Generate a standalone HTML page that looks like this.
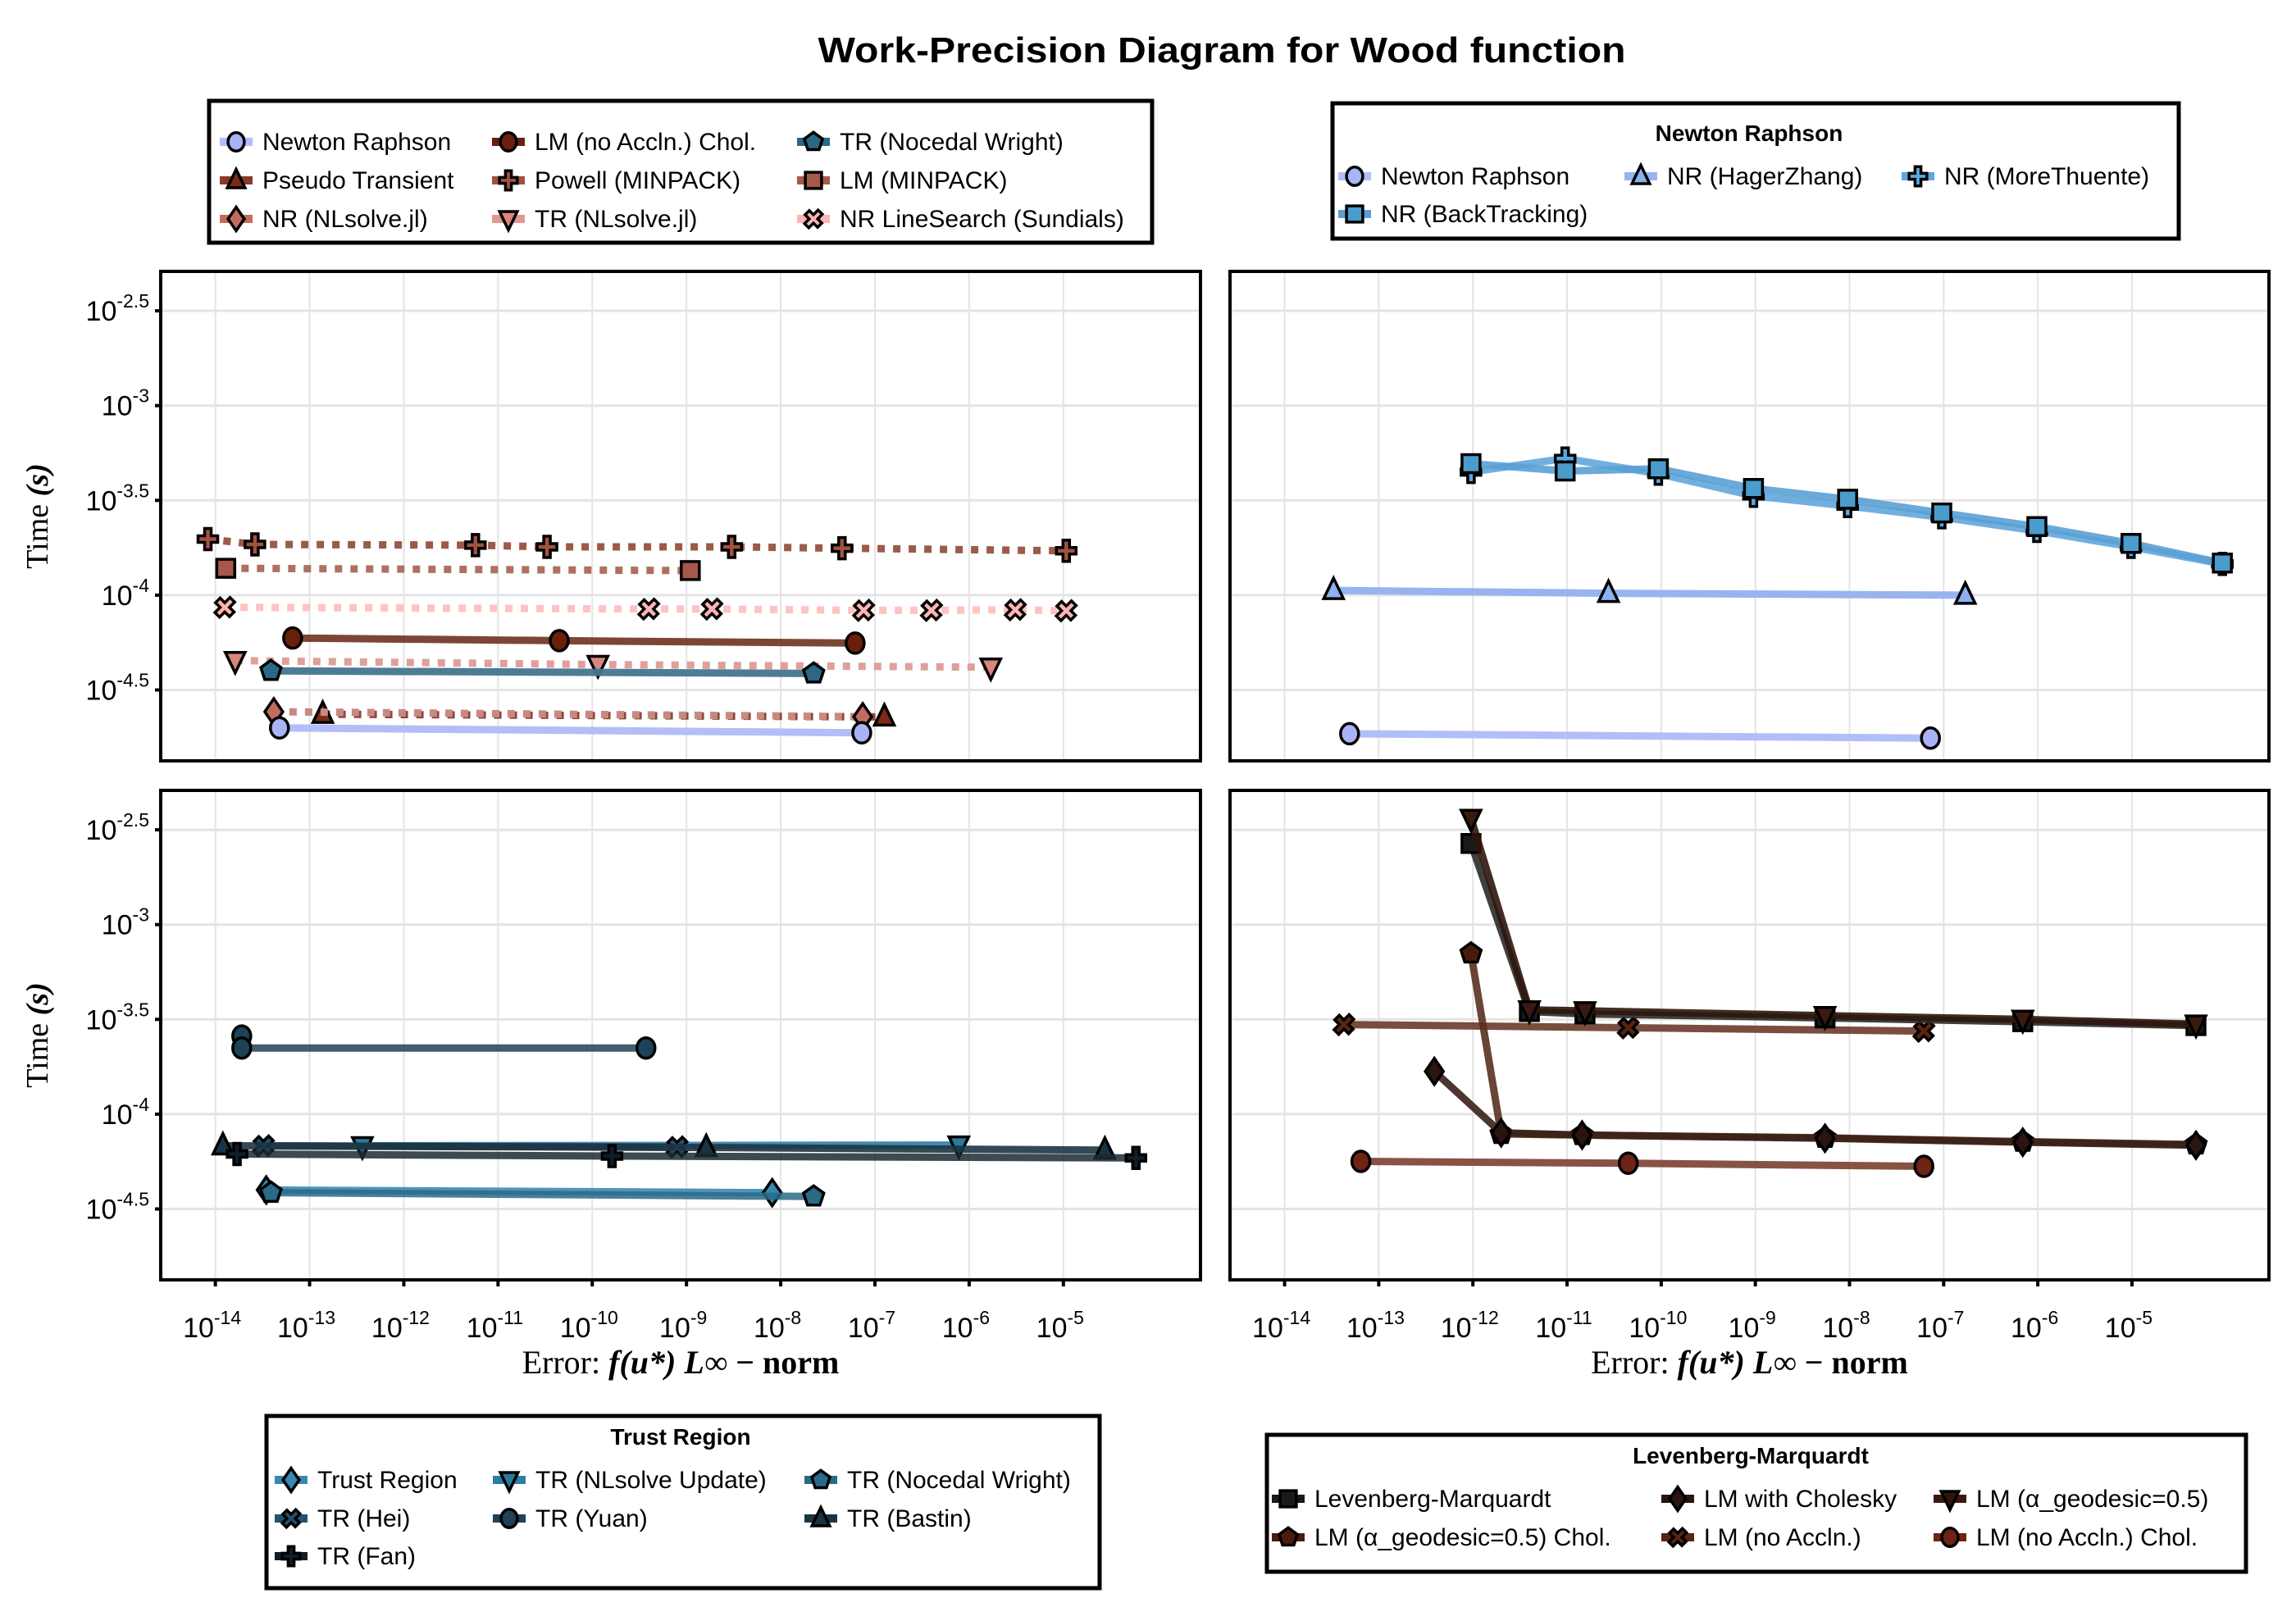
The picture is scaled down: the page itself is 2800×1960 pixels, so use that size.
<!DOCTYPE html>
<html><head><meta charset="utf-8"><style>
html,body{margin:0;padding:0;background:#fff;}
svg{display:block;font-family:"Liberation Sans",sans-serif;}
</style></head><body>
<svg id="chart" width="2800" height="1960" viewBox="0 0 2800 1960" xmlns="http://www.w3.org/2000/svg">
<rect width="2800" height="1960" fill="#fff"/>
<text x="1490" y="76" text-anchor="middle" font-size="44" font-weight="bold" textLength="985" lengthAdjust="spacingAndGlyphs">Work-Precision Diagram for Wood function</text>
<g id="panels"></g>
<g id="legends"></g>
</svg>
<script>
// ---------- data (log10 error, log10 time) ----------
// top-left panel
const tl_nr_x=[-13.32,-7.14], tl_nr_y=[-4.70,-4.726];
const tl_pt_x=[-12.86,-6.90], tl_pt_y=[-4.628,-4.642];
const tl_nrnl_x=[-13.38,-7.13], tl_nrnl_y=[-4.615,-4.641];
const tl_lmc_x=[-13.18,-10.35,-7.21], tl_lmc_y=[-4.226,-4.240,-4.253];
const tl_pow_x=[-14.08,-13.58,-11.24,-10.48,-8.52,-7.35,-4.97], tl_pow_y=[-3.704,-3.732,-3.736,-3.745,-3.745,-3.752,-3.766];
const tl_trnl_x=[-13.79,-9.94,-5.77], tl_trnl_y=[-4.345,-4.366,-4.38];
const tl_trnw_x=[-13.41,-7.65], tl_trnw_y=[-4.399,-4.413];
const tl_lmmp_x=[-13.89,-8.96], tl_lmmp_y=[-3.858,-3.870];
const tl_sun_x=[-13.90,-9.40,-8.73,-7.12,-6.40,-5.51,-4.97], tl_sun_y=[-4.064,-4.073,-4.073,-4.080,-4.080,-4.077,-4.082];
// top-right panel
const tr_nr_x=[-13.31,-7.14], tr_nr_y=[-4.731,-4.754];
const tr_hz_x=[-13.48,-10.56,-6.77], tr_hz_y=[-3.975,-3.99,-4.0];
const tr_mt_x=[-12.02,-11.02,-10.03,-9.02,-8.02,-7.02,-6.01,-5.01,-4.04], tr_mt_y=[-3.350,-3.279,-3.359,-3.476,-3.530,-3.589,-3.661,-3.745,-3.835];
const tr_bt_x=[-12.02,-11.02,-10.03,-9.02,-8.02,-7.02,-6.01,-5.01,-4.04], tr_bt_y=[-3.306,-3.345,-3.333,-3.437,-3.494,-3.566,-3.638,-3.727,-3.831];
// bottom-left panel
const bl_tr_x=[-13.46,-8.09], bl_tr_y=[-4.40,-4.414];
const bl_upd_x=[-12.44,-6.11], bl_upd_y=[-4.167,-4.163];
const bl_nw_x=[-13.41,-7.65], bl_nw_y=[-4.414,-4.434];
const bl_hei_x=[-13.49,-9.10], bl_hei_y=[-4.167,-4.173];
const bl_yuan_x=[-13.72,-13.72,-9.43], bl_yuan_y=[-3.588,-3.651,-3.651];
const bl_bas_x=[-13.92,-8.79,-4.56], bl_bas_y=[-4.167,-4.176,-4.19];
const bl_fan_x=[-13.77,-9.79,-4.23], bl_fan_y=[-4.21,-4.221,-4.231];
// bottom-right panel
const br_lm_x=[-12.02,-11.40,-10.81,-8.26,-6.16,-4.32], br_lm_y=[-2.572,-3.459,-3.471,-3.492,-3.512,-3.533];
const br_ch_x=[-12.41,-11.70,-10.84,-8.26,-6.16,-4.32], br_ch_y=[-3.774,-4.098,-4.11,-4.127,-4.148,-4.164];
const br_geo_x=[-12.02,-11.40,-10.81,-8.26,-6.16,-4.32], br_geo_y=[-2.44,-3.45,-3.455,-3.48,-3.50,-3.525];
const br_gch_x=[-12.02,-11.70,-10.84,-8.26,-6.16,-4.32], br_gch_y=[-3.152,-4.104,-4.11,-4.125,-4.145,-4.16];
const br_na_x=[-13.37,-10.35,-7.21], br_na_y=[-3.527,-3.544,-3.562];
const br_nac_x=[-13.19,-10.35,-7.21], br_nac_y=[-4.249,-4.259,-4.275];
// axis ticks
const xTicks=[-14,-13,-12,-11,-10,-9,-8,-7,-6,-5];
const yTicks=[-2.5,-3,-3.5,-4,-4.5];
const yTickLabels=["-2.5","-3","-3.5","-4","-4.5"];

const NS="http://www.w3.org/2000/svg";
const XMIN=-14.58, XMAX=-3.545, YMAX=-2.292, YMIN=-4.874;
const panels=[
 {key:"top-left",x:196,y:331,w:1268,h:597,ylab:true,xlab:false},
 {key:"top-right",x:1500,y:331,w:1267,h:597,ylab:false,xlab:false},
 {key:"bottom-left",x:196,y:964,w:1268,h:597,ylab:true,xlab:true},
 {key:"bottom-right",x:1500,y:964,w:1267,h:597,ylab:false,xlab:true}
];
function mk(tag,attrs,parent){const e=document.createElementNS(NS,tag);for(const k in attrs)e.setAttribute(k,attrs[k]);if(parent)parent.appendChild(e);return e;}
function sx(p,v){return p.x+(v-XMIN)*p.w/(XMAX-XMIN);}
function sy(p,v){return p.y+(YMAX-v)*p.h/(YMAX-YMIN);}

function markerPath(shape,cx,cy,s){
  s=s||1;const pts=(arr)=>"M"+arr.map(a=>(cx+a[0]*s).toFixed(1)+","+(cy+a[1]*s).toFixed(1)).join("L")+"Z";
  switch(shape){
    case "circle": return {tag:"ellipse",a:{cx:cx,cy:cy,rx:11*s,ry:12.5*s}};
    case "square": return {tag:"path",a:{d:pts([[-11,-11],[11,-11],[11,11],[-11,11]])}};
    case "utri": return {tag:"path",a:{d:pts([[0,-15],[12,10],[-12,10]])}};
    case "dtri": return {tag:"path",a:{d:pts([[0,15],[12,-10],[-12,-10]])}};
    case "diamond": return {tag:"path",a:{d:pts([[0,-16],[11,0],[0,16],[-11,0]])}};
    case "pent": {const a=[];for(let i=0;i<5;i++){const t=-Math.PI/2+i*2*Math.PI/5;a.push([13*Math.cos(t),13*Math.sin(t)]);}return {tag:"path",a:{d:pts(a)}};}
    case "plus": return {tag:"path",a:{d:pts([[-4,-13],[4,-13],[4,-4],[12,-4],[12,4],[4,4],[4,13],[-4,13],[-4,4],[-12,4],[-12,-4],[-4,-4]])}};
    case "x": {const b=[[-4,-13],[4,-13],[4,-4],[12,-4],[12,4],[4,4],[4,13],[-4,13],[-4,4],[-12,4],[-12,-4],[-4,-4]];
      const c=Math.cos(Math.PI/4),si=Math.sin(Math.PI/4);return {tag:"path",a:{d:pts(b.map(q=>[q[0]*c-q[1]*si,q[0]*si+q[1]*c]))}};}
  }
}
function drawMarker(g,shape,cx,cy,fill,s){
  const m=markerPath(shape,cx,cy,s);
  const el=mk(m.tag,m.a,g);el.setAttribute("fill",fill);el.setAttribute("stroke","#000");el.setAttribute("stroke-width","3.5");el.setAttribute("stroke-linejoin","miter");
  return el;
}

const series={
 "top-left":[
  {name:"nr-lm-chol",x:tl_lmc_x,y:tl_lmc_y,line:"#6e3220",op:0.9,dash:null,m:"circle",fill:"#6a1e0c"},
  {name:"powell-minpack",x:tl_pow_x,y:tl_pow_y,line:"#9c5a48",op:1,dash:"9 10",m:"plus",fill:"#a0523f"},
  {name:"lm-minpack",x:tl_lmmp_x,y:tl_lmmp_y,line:"#b07060",op:1,dash:"9 10",m:"square",fill:"#a6584a"},
  {name:"nr-linesearch-sundials",x:tl_sun_x,y:tl_sun_y,line:"#ffc2c2",op:1,dash:"9 10",m:"x",fill:"#ffb4b4"},
  {name:"tr-nlsolve",x:tl_trnl_x,y:tl_trnl_y,line:"#e0a09a",op:1,dash:"9 10",m:"dtri",fill:"#d8867e"},
  {name:"tr-nocedal-wright",x:tl_trnw_x,y:tl_trnw_y,line:"#447590",op:0.95,dash:null,m:"pent",fill:"#2a6886"},
  {name:"pseudo-transient",x:tl_pt_x,y:tl_pt_y,line:"#8a4a3a",op:1,dash:"9 10",m:"utri",fill:"#7a2a18"},
  {name:"nr-nlsolve",x:tl_nrnl_x,y:tl_nrnl_y,line:"#c88a80",op:1,dash:"9 10",m:"diamond",fill:"#c26c60"},
  {name:"newton-raphson",x:tl_nr_x,y:tl_nr_y,line:"#b3bdf8",op:1,dash:null,m:"circle",fill:"#a9b4f6"}
 ],
 "top-right":[
  {name:"newton-raphson",x:tr_nr_x,y:tr_nr_y,line:"#b3bdf8",op:1,dash:null,m:"circle",fill:"#a9b4f6"},
  {name:"nr-hagerzhang",x:tr_hz_x,y:tr_hz_y,line:"#98b4f0",op:1,dash:null,m:"utri",fill:"#8fb0f0"},
  {name:"nr-morethuente",x:tr_mt_x,y:tr_mt_y,line:"#62a6dc",op:0.9,dash:null,m:"plus",fill:"#5aa8e0"},
  {name:"nr-backtracking",x:tr_bt_x,y:tr_bt_y,line:"#5aa0d4",op:0.9,dash:null,m:"square",fill:"#4a9ccc"}
 ],
 "bottom-left":[
  {name:"tr-yuan",x:bl_yuan_x,y:bl_yuan_y,line:"#2e4d5e",op:0.9,dash:null,m:"circle",fill:"#1e4257"},
  {name:"tr-nlsolve-update",x:bl_upd_x,y:bl_upd_y,line:"#2e7da6",op:0.9,dash:null,m:"dtri",fill:"#2a7aa0"},
  {name:"tr-hei",x:bl_hei_x,y:bl_hei_y,line:"#23526e",op:0.9,dash:null,m:"x",fill:"#23526e"},
  {name:"tr-bastin",x:bl_bas_x,y:bl_bas_y,line:"#1e3442",op:0.9,dash:null,m:"utri",fill:"#1a3444"},
  {name:"tr-fan",x:bl_fan_x,y:bl_fan_y,line:"#1a2a34",op:0.85,dash:null,m:"plus",fill:"#0f1e28"},
  {name:"trust-region",x:bl_tr_x,y:bl_tr_y,line:"#3a8ab4",op:0.9,dash:null,m:"diamond",fill:"#3a88b0"},
  {name:"tr-nocedal-wright",x:bl_nw_x,y:bl_nw_y,line:"#2a6a88",op:0.85,dash:null,m:"pent",fill:"#2a6a88"}
 ],
 "bottom-right":[
  {name:"lm-no-accln",x:br_na_x,y:br_na_y,line:"#6a3a2a",op:0.9,dash:null,m:"x",fill:"#5a2410"},
  {name:"lm-no-accln-chol",x:br_nac_x,y:br_nac_y,line:"#7a4030",op:0.9,dash:null,m:"circle",fill:"#6e2412"},
  {name:"lm-geodesic-chol",x:br_gch_x,y:br_gch_y,line:"#5a3020",op:0.9,dash:null,m:"pent",fill:"#4a1c0e"},
  {name:"lm-with-cholesky",x:br_ch_x,y:br_ch_y,line:"#3a2018",op:0.9,dash:null,m:"diamond",fill:"#2a1510"},
  {name:"levenberg-marquardt",x:br_lm_x,y:br_lm_y,line:"#2a2a2a",op:0.9,dash:null,m:"square",fill:"#1a1a1a"},
  {name:"lm-geodesic",x:br_geo_x,y:br_geo_y,line:"#2d150c",op:0.9,dash:null,m:"dtri",fill:"#3a1a10"}
 ]
};

const root=document.getElementById("panels");
panels.forEach(p=>{
  const g=mk("g",{},root);
  
  
  xTicks.forEach(t=>{const l=mk("line",{x1:sx(p,t),x2:sx(p,t),y1:p.y,y2:p.y+p.h,stroke:"#e4e4e4","stroke-width":2},g);
    
    });
  yTicks.forEach(t=>{const l=mk("line",{x1:p.x,x2:p.x+p.w,y1:sy(p,t),y2:sy(p,t),stroke:"#e4e4e4","stroke-width":3},g);
    
    });
  series[p.key].forEach(s=>{
    const sg=mk("g",{},g);
    
    
    const d=s.x.map((v,i)=>(i?"L":"M")+sx(p,v).toFixed(1)+","+sy(p,s.y[i]).toFixed(1)).join("");
    const path=mk("path",{d:d,fill:"none",stroke:s.line,"stroke-width":9,"stroke-opacity":s.op,"stroke-linejoin":"round"},sg);
    if(s.dash)path.setAttribute("stroke-dasharray",s.dash);
    
    
    s.x.forEach((v,i)=>{const m=drawMarker(sg,s.m,sx(p,v),sy(p,s.y[i]),s.fill,1);
      
      });
  });
  const fr=mk("rect",{x:p.x,y:p.y,width:p.w,height:p.h,fill:"none",stroke:"#000","stroke-width":4},g);
  
  
  if(p.ylab){
    yTicks.forEach((t,i)=>{const yy=sy(p,t);
      mk("line",{x1:p.x-7,x2:p.x,y1:yy,y2:yy,stroke:"#000","stroke-width":4},g);
      const tx=mk("text",{x:p.x-14,y:yy+12,"text-anchor":"end","font-size":34},g);
      
      
      tx.appendChild(document.createTextNode("10"));
      const sp=mk("tspan",{dy:-16,"font-size":23},tx);sp.textContent=yTickLabels[i];});
    const yl=mk("text",{transform:"translate(58,"+(p.y+p.h/2)+") rotate(-90)","text-anchor":"middle","font-size":38,"font-family":"'Liberation Serif',serif"},g);
    
    
    yl.appendChild(document.createTextNode("Time "));
    const b=mk("tspan",{"font-weight":"bold","font-style":"italic"},yl);b.textContent="(s)";
  }
  if(p.xlab){
    xTicks.forEach(t=>{const xx=sx(p,t);
      mk("line",{x1:xx,x2:xx,y1:p.y+p.h,y2:p.y+p.h+8,stroke:"#000","stroke-width":4},g);
      const tx=mk("text",{x:xx-4,y:p.y+p.h+70,"text-anchor":"middle","font-size":34},g);
      
      
      tx.appendChild(document.createTextNode("10"));
      const sp=mk("tspan",{dy:-16,"font-size":23},tx);sp.textContent=String(t);});
    const xl=mk("text",{x:p.x+p.w/2,y:1675,"text-anchor":"middle","font-size":40,"font-family":"'Liberation Serif',serif"},g);
    
    
    xl.appendChild(document.createTextNode("Error: "));
    const a=mk("tspan",{"font-weight":"bold","font-style":"italic"},xl);a.textContent="f(u*) L∞";
    const c=mk("tspan",{"font-weight":"bold"},xl);c.textContent=" − norm";
  }
});

// ---------- legends ----------
const legends=[
 {name:"legend-overview",box:[255,123,1150,173],title:null,
  cols:[288,620,992],rows:[173,220,267],
  entries:[["Newton Raphson","circle","#a9b4f6","#b3bdf8"],["Pseudo Transient","utri","#7a2a18","#8a3a28"],["NR (NLsolve.jl)","diamond","#c26c60","#c26c60"],
           ["LM (no Accln.) Chol.","circle","#6a1e0c","#6a1e0c"],["Powell (MINPACK)","plus","#a0523f","#a0523f"],["TR (NLsolve.jl)","dtri","#d8867e","#e09890"],
           ["TR (Nocedal Wright)","pent","#2a6886","#2a6886"],["LM (MINPACK)","square","#a6584a","#a6584a"],["NR LineSearch (Sundials)","x","#ffb4b4","#ffb4b4"]],
  order:"col"},
 {name:"legend-newton-raphson",box:[1625,126,1032,165],title:["Newton Raphson",2133,162],
  cols:[1652,2001,2339],rows:[215,261],
  entries:[["Newton Raphson","circle","#a9b4f6","#b3bdf8"],["NR (HagerZhang)","utri","#8fb0f0","#98b4f0"],["NR (MoreThuente)","plus","#5aa8e0","#62a6dc"],["NR (BackTracking)","square","#4a9ccc","#5aa0d4"]],
  order:"row"},
 {name:"legend-trust-region",box:[325,1727,1016,210],title:["Trust Region",830,1752],
  cols:[355,621,1001],rows:[1805,1852,1898],
  entries:[["Trust Region","diamond","#3a88b0","#3a88b0"],["TR (NLsolve Update)","dtri","#2a7aa0","#2e7da6"],["TR (Nocedal Wright)","pent","#2a6a88","#2a6a88"],
           ["TR (Hei)","x","#23526e","#23526e"],["TR (Yuan)","circle","#1e4257","#1e4257"],["TR (Bastin)","utri","#1a3444","#1a3444"],["TR (Fan)","plus","#0f1e28","#0f1e28"]],
  order:"row"},
 {name:"legend-levenberg-marquardt",box:[1545,1750,1194,167],title:["Levenberg-Marquardt",2135,1775],
  cols:[1571,2046,2378],rows:[1828,1875],
  entries:[["Levenberg-Marquardt","square","#1a1a1a","#1a1a1a"],["LM with Cholesky","diamond","#2a1510","#2a1510"],["LM (α_geodesic=0.5)","dtri","#2d150c","#3a1a10"],
           ["LM (α_geodesic=0.5) Chol.","pent","#4a1c0e","#4a1c0e"],["LM (no Accln.)","x","#5a2410","#5a2410"],["LM (no Accln.) Chol.","circle","#6e2412","#6e2412"]],
  order:"row"}
];
const lroot=document.getElementById("legends");
legends.forEach(L=>{
  const g=mk("g",{},lroot);
  
  
  mk("rect",{x:L.box[0],y:L.box[1],width:L.box[2],height:L.box[3],fill:"#fff",stroke:"#000","stroke-width":5},g);
  if(L.title){const t=mk("text",{x:L.title[1],y:L.title[2]+10,"text-anchor":"middle","font-size":28,"font-weight":"bold"},g);
    
    
    t.textContent=L.title[0];}
  const nc=L.cols.length,nr=L.rows.length;
  L.entries.forEach((e,i)=>{
    let c,r; if(L.order==="col"){c=Math.floor(i/nr);r=i%nr;}else{r=Math.floor(i/nc);c=i%nc;}
    const cx=L.cols[c],cy=L.rows[r];
    const eg=mk("g",{},g);
    
    
    mk("rect",{x:cx-20,y:cy-5,width:40,height:10,fill:e[3]},eg);
    drawMarker(eg,e[1],cx,cy,e[2],0.9);
    const t=mk("text",{x:cx+32,y:cy+10,"font-size":30},eg);
    t.textContent=e[0];
  });
});
</script>
</body></html>
